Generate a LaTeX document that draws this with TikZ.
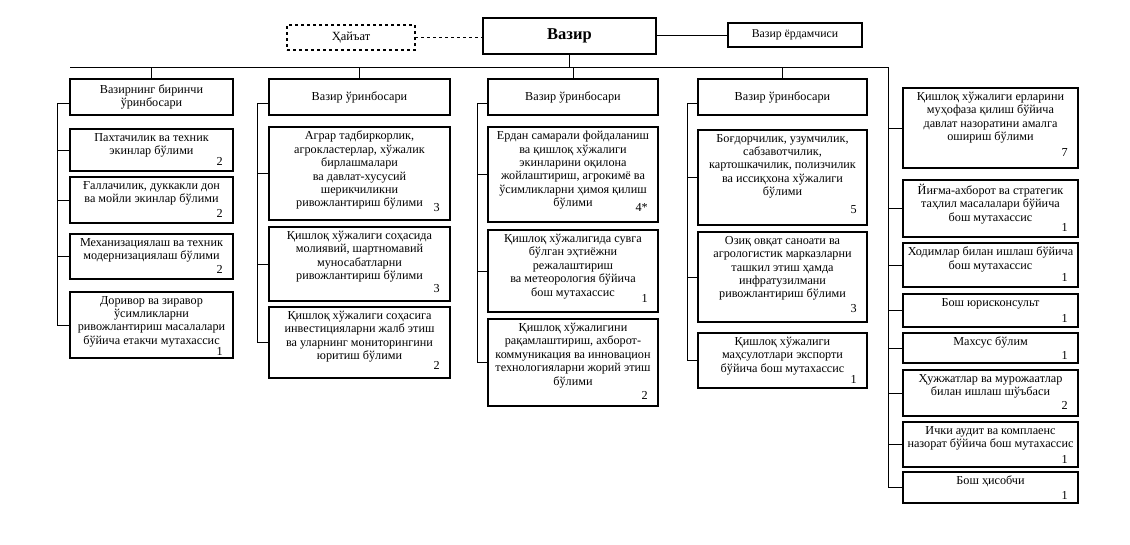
\documentclass[tikz,border=0pt]{standalone}
\usepackage{fontspec}
\setmainfont{Liberation Serif}
\tikzset{
  box/.style={draw, line width=1.2pt, anchor=north west, inner sep=0pt, outer sep=0pt},
  headbox/.style={box, align=center, font=\fontsize{12.2}{13.4}\selectfont},
  txt/.style={anchor=north, align=center, font=\fontsize{12.2}{13.4}\selectfont, inner sep=0pt},
  num/.style={anchor=base east, font=\fontsize{12.2}{13.4}\selectfont, inner sep=0pt},
  link/.style={line width=0.9pt},
}
% name, x, y, w, h, text, number, number baseline above bottom
\newcommand\ubox[8]{%
  \node[box, minimum width=#4pt, minimum height=#5pt] (#1) at (#2,#3) {};
  \node[txt] (#1t) at ([yshift=-4pt]#1.north) {#6};
  \node[num] (#1n) at ([xshift=-10pt,yshift=#8pt]#1.south east) {#7};
}
\newcommand\headnode[6]{%
  \node[headbox, minimum width=#4pt, minimum height=#5pt] (#1) at (#2,#3) {#6};
}
\begin{document}
\begin{tikzpicture}[x=1pt,y=-1pt]
\useasboundingbox (0,0) rectangle (1130,544);

% top level
\node[box, line width=1.8pt, minimum width=173pt, minimum height=36pt, font=\bfseries\fontsize{16.5}{18}\selectfont] (vazir) at (483,18) {Вазир};
\node[box, dashed, line width=1.1pt, minimum width=128pt, minimum height=25pt, font=\fontsize{12.5}{13.4}\selectfont] (hay) at (287,25) {Ҳайъат};
\node[box, minimum width=134pt, minimum height=24pt, font=\fontsize{11.8}{13}\selectfont] (yord) at (728,23) {Вазир ёрдамчиси};
\draw[link, dashed] (hay.east) -- (hay.east -| vazir.west);
\draw[link] (vazir.east |- yord.west) -- (yord.west);

% bus
\coordinate (busL) at (70,67);
\coordinate (busR) at (888,67);
\draw[link] (busL) -- (busR);
\draw[link] (vazir.south) -- (vazir.south |- busL);

% column 1
\headnode{h1}{70}{79}{163}{36}{Вазирнинг биринчи\\ўринбосари}
\ubox{a1}{70}{129}{163}{42}{Пахтачилик ва техник\\экинлар бўлими}{2}{6}
\ubox{a2}{70}{177}{163}{46}{Ғаллачилик, дуккакли дон\\ва мойли экинлар бўлими}{2}{6}
\ubox{a3}{70}{234}{163}{45}{Механизациялаш ва техник\\модернизациялаш бўлими}{2}{6}
\ubox{a4}{70}{292}{163}{66}{Доривор ва зиравор\\ўсимликларни\\ривожлантириш масалалари\\бўйича етакчи мутахассис}{1}{3}

% column 2
\headnode{h2}{269}{79}{181}{36}{Вазир ўринбосари}
\ubox{b1}{269}{127}{181}{93}{Аграр тадбиркорлик,\\агрокластерлар, хўжалик\\бирлашмалари\\ва давлат-хусусий\\шерикчиликни\\ривожлантириш бўлими}{3}{9}
\ubox{b2}{269}{227}{181}{74}{Қишлоқ хўжалиги соҳасида\\молиявий, шартномавий\\муносабатларни\\ривожлантириш бўлими}{3}{9}
\ubox{b3}{269}{307}{181}{71}{Қишлоқ хўжалиги соҳасига\\инвестицияларни жалб этиш\\ва уларнинг мониторингини\\юритиш бўлими}{2}{9}

% column 3
\headnode{h3}{488}{79}{170}{36}{Вазир ўринбосари}
\ubox{c1}{488}{127}{170}{95}{Ердан самарали фойдаланиш\\ва қишлоқ хўжалиги\\экинларини оқилона\\жойлаштириш, агрокимё ва\\ўсимликларни ҳимоя қилиш\\бўлими}{4*}{11}
\ubox{c2}{488}{230}{170}{82}{Қишлоқ хўжалигида сувга\\бўлган эҳтиёжни\\режалаштириш\\ва метеорология бўйича\\бош мутахассис}{1}{10}
\ubox{c3}{488}{319}{170}{87}{Қишлоқ хўжалигини\\рақамлаштириш, ахборот-\\коммуникация ва инновацион\\технологияларни жорий этиш\\бўлими}{2}{7}

% column 4
\headnode{h4}{698}{79}{169}{36}{Вазир ўринбосари}
\ubox{d1}{698}{130}{169}{95}{Боғдорчилик, узумчилик,\\сабзавотчилик,\\картошкачилик, полизчилик\\ва иссиқхона хўжалиги\\бўлими}{5}{12}
\ubox{d2}{698}{232}{169}{90}{Озиқ овқат саноати ва\\агрологистик марказларни\\ташкил этиш ҳамда\\инфратузилмани\\ривожлантириш бўлими}{3}{10}
\ubox{d3}{698}{333}{169}{55}{Қишлоқ хўжалиги\\маҳсулотлари экспорти\\бўйича бош мутахассис}{1}{5}

% column 5
\ubox{e1}{903}{88}{175}{80}{Қишлоқ хўжалиги ерларини\\муҳофаза қилиш бўйича\\давлат назоратини амалга\\ошириш бўлими}{7}{12}
\ubox{e2}{903}{180}{175}{57}{Йиғма-ахборот ва стратегик\\таҳлил масалалари бўйича\\бош мутахассис}{1}{6}
\ubox{e3}{903}{243}{175}{44}{Ходимлар билан ишлаш бўйича\\бош мутахассис}{1}{6}
\ubox{e4}{903}{294}{175}{33}{Бош юрисконсульт}{1}{5}
\ubox{e5}{903}{333}{175}{30}{Махсус бўлим}{1}{4}
\ubox{e6}{903}{370}{175}{46}{Ҳужжатлар ва мурожаатлар\\билан ишлаш шўъбаси}{2}{7}
\ubox{e7}{903}{422}{175}{45}{Ички аудит ва комплаенс\\назорат бўйича бош мутахассис}{1}{4}
\ubox{e8}{903}{472}{175}{31}{Бош ҳисобчи}{1}{4}

% head links to bus
\foreach \h in {h1,h2,h3,h4} \draw[link] (\h.north) -- (\h.north |- busL);

% spines
\coordinate (s1) at (57,103);
\coordinate (s2) at (257,103);
\coordinate (s3) at (477,103);
\coordinate (s4) at (687,103);
\draw[link] (s1 -| h1.west) -- (s1) -- (s1 |- a4.west) -- (a4.west);
\foreach \c in {a1,a2,a3} \draw[link] (s1 |- \c.west) -- (\c.west);
\draw[link] (s2 -| h2.west) -- (s2) -- (s2 |- b3.west) -- (b3.west);
\foreach \c in {b1,b2} \draw[link] (s2 |- \c.west) -- (\c.west);
\draw[link] (s3 -| h3.west) -- (s3) -- (s3 |- c3.west) -- (c3.west);
\foreach \c in {c1,c2} \draw[link] (s3 |- \c.west) -- (\c.west);
\draw[link] (s4 -| h4.west) -- (s4) -- (s4 |- d3.west) -- (d3.west);
\foreach \c in {d1,d2} \draw[link] (s4 |- \c.west) -- (\c.west);
\draw[link] (busR) -- (busR |- e8.west) -- (e8.west);
\foreach \c in {e1,e2,e3,e4,e5,e6,e7} \draw[link] (busR |- \c.west) -- (\c.west);
\end{tikzpicture}
\end{document}
